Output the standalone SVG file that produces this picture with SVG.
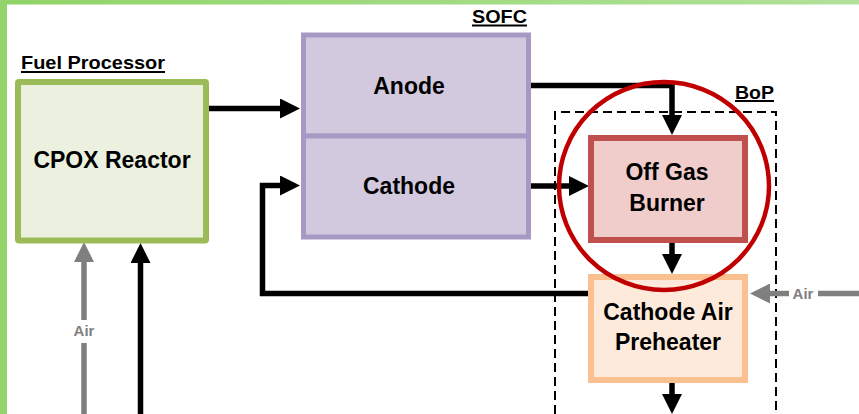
<svg xmlns="http://www.w3.org/2000/svg" width="859" height="414" viewBox="0 0 859 414">
<defs>
<linearGradient id="gtop" x1="0" y1="0" x2="1" y2="0">
<stop offset="0" stop-color="#8fd468"/><stop offset="1" stop-color="#b2e19a"/>
</linearGradient>
<marker id="ah" markerUnits="userSpaceOnUse" markerWidth="20" markerHeight="20" viewBox="0 0 20 20" refX="14" refY="10" orient="auto">
<path d="M0,0 L20,10 L0,20 z" fill="#000"/>
</marker>
<marker id="ahg" markerUnits="userSpaceOnUse" markerWidth="20" markerHeight="20" viewBox="0 0 20 20" refX="14" refY="10" orient="auto">
<path d="M0,0 L20,10 L0,20 z" fill="#7f7f7f"/>
</marker>
<style>
.lbl{font-family:"Liberation Sans",Arial,sans-serif;font-weight:bold;font-size:19px;fill:#000;}
.main{font-family:"Liberation Sans",Arial,sans-serif;font-weight:bold;font-size:23px;fill:#000;text-anchor:middle;}
.air{font-family:"Liberation Sans",Arial,sans-serif;font-weight:bold;font-size:15px;fill:#7f7f7f;text-anchor:middle;}
.ul{stroke:#000;stroke-width:1.8;}
.k{fill:none;stroke:#000;stroke-width:5.5;}
.g{fill:none;stroke:#7f7f7f;stroke-width:5.5;}
</style>
</defs>
<rect x="0" y="0" width="859" height="414" fill="#fff"/>
<rect x="0" y="0" width="859" height="4.5" fill="url(#gtop)"/>
<rect x="0" y="0" width="7" height="414" fill="#92d46a"/>

<g id="labels">
<text class="lbl" x="21" y="69" textLength="144" lengthAdjust="spacingAndGlyphs">Fuel Processor</text>
<line class="ul" x1="21" y1="72" x2="165" y2="72"/>
<text class="lbl" x="472" y="23" textLength="55" lengthAdjust="spacingAndGlyphs">SOFC</text>
<line class="ul" x1="472" y1="25.5" x2="527" y2="25.5"/>
<text class="lbl" x="735" y="98.5" textLength="39" lengthAdjust="spacingAndGlyphs">BoP</text>
<line class="ul" x1="735" y1="101" x2="774" y2="101"/>
</g>

<g id="bop-boundary">
<path d="M555,414 V112 H776 V414" fill="none" stroke="#000" stroke-width="2" stroke-dasharray="9 5"/>
</g>

<g id="connectors">
<line class="k" x1="206" y1="108.5" x2="294" y2="108.5" marker-end="url(#ah)"/>
<polyline class="k" points="529,85.5 672,85.5 672,129" marker-end="url(#ah)"/>
<line class="k" x1="529" y1="186" x2="583" y2="186" marker-end="url(#ah)"/>
<line class="k" x1="672" y1="243" x2="672" y2="268" marker-end="url(#ah)"/>
<polyline class="k" points="588,293.5 262.5,293.5 262.5,185.5 294,185.5" marker-end="url(#ah)"/>
<line class="k" x1="672" y1="382" x2="672" y2="408" marker-end="url(#ah)"/>
<line class="k" x1="140.5" y1="414" x2="140.5" y2="249" marker-end="url(#ah)"/>
<line class="g" x1="84" y1="414" x2="84" y2="343"/>
<line class="g" x1="84" y1="320" x2="84" y2="248" marker-end="url(#ahg)"/>
<line class="g" x1="859" y1="293.5" x2="818" y2="293.5"/>
<line class="g" x1="789" y1="293.5" x2="756" y2="293.5" marker-end="url(#ahg)"/>
<text class="air" x="84" y="336">Air</text>
<text class="air" x="803" y="299">Air</text>
</g>

<g id="fuel-processor">
<rect x="18" y="82" width="188" height="158.5" fill="#ebf1de" stroke="#9bbb59" stroke-width="6" rx="1"/>
<text class="main" x="112" y="168">CPOX Reactor</text>
</g>

<g id="anode">
<rect x="303.5" y="35" width="225" height="101" fill="#d3c9df" stroke="#a899c4" stroke-width="5"/>
<text class="main" x="409" y="93.5">Anode</text>
</g>
<g id="cathode">
<rect x="303.5" y="136" width="225" height="101" fill="#d3c9df" stroke="#a899c4" stroke-width="5"/>
<text class="main" x="409" y="194">Cathode</text>
</g>

<g id="off-gas-burner">
<rect x="591" y="138" width="154" height="102" fill="#f0cccb" stroke="#c0504d" stroke-width="6"/>
<text class="main" x="667" y="180">Off Gas</text>
<text class="main" x="667" y="211">Burner</text>
</g>

<g id="cathode-air-preheater">
<rect x="591" y="277" width="154" height="103" fill="#fdeada" stroke="#fac090" stroke-width="6"/>
<text class="main" x="668" y="320">Cathode Air</text>
<text class="main" x="668" y="350">Preheater</text>
</g>

<g id="highlight">
<ellipse cx="664" cy="186" rx="105" ry="104" fill="none" stroke="#c00000" stroke-width="4.5"/>
</g>
</svg>
